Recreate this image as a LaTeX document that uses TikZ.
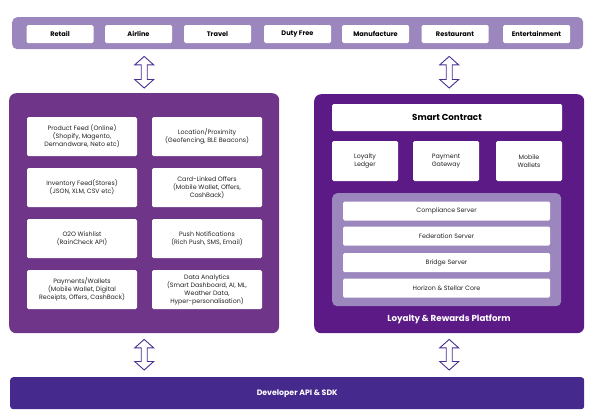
\documentclass[tikz,border=0pt]{standalone}
\usepackage{fontspec}
\setmainfont{Poppins}
\usetikzlibrary{calc}
\definecolor{lightpurple}{HTML}{9B86BD}
\definecolor{leftpurple}{HTML}{6F3589}
\definecolor{rightpurple}{HTML}{5B1A86}
\definecolor{indigo}{HTML}{45298D}
\definecolor{arrowcol}{HTML}{4A2F93}
\definecolor{boxtext}{HTML}{222222}
\tikzset{
  panel/.style={rounded corners=7pt, inner sep=0pt, anchor=north west},
  whitebox/.style={fill=white, rounded corners=1.5pt, inner sep=1pt, align=center,
    font=\fontsize{6.3}{8}\selectfont, text=boxtext},
  tabbox/.style={whitebox, minimum width=67pt, minimum height=18pt,
    font=\fontsize{6.6}{8}\selectfont\bfseries, text=black},
  featbox/.style={whitebox, minimum width=110pt, minimum height=39pt},
  smallbox/.style={whitebox, minimum width=66pt, minimum height=40pt},
  serverbox/.style={whitebox, minimum width=207pt, minimum height=19pt},
  arrowline/.style={draw=arrowcol, fill=white, line width=0.9pt, line join=miter},
}
\newcommand\vdarrow[2]{%
  \draw[arrowline] let \p1=(#1), \p2=(#2) in
    (\x1,\y1) -- (\x1+9.5pt,\y1-8.5pt) -- (\x1+3pt,\y1-8.5pt) -- (\x1+3pt,\y2+8.5pt)
    -- (\x1+9.5pt,\y2+8.5pt) -- (\x1,\y2) -- (\x1-9.5pt,\y2+8.5pt) -- (\x1-3pt,\y2+8.5pt)
    -- (\x1-3pt,\y1-8.5pt) -- (\x1-9.5pt,\y1-8.5pt) -- cycle;}
\begin{document}
\begin{tikzpicture}[x=1pt,y=-1pt]
\useasboundingbox (0,0) rectangle (596,418);
% top bar
\node[panel, fill=lightpurple, rounded corners=5pt, minimum width=571pt, minimum height=32pt] (top) at (12,17) {};
\node[tabbox] (retail) at (60,34) {Retail};
\node[tabbox] (airline) at (138.5,34) {Airline};
\node[tabbox] (travel) at (217.5,34) {Travel};
\node[tabbox] (duty) at (297.5,34) {Duty Free};
\node[tabbox] (manu) at (375.5,34) {Manufacture};
\node[tabbox] (rest) at (455,34) {Restaurant};
\node[tabbox] (ent) at (536.5,34) {Entertainment};
% left panel
\node[panel, fill=leftpurple, minimum width=270pt, minimum height=240pt] (lp) at (9,93) {};
\node[featbox] (prod) at (82,136.5) {Product Feed (Online)\\(Shopify, Magento,\\Demandware, Neto etc)};
\node[featbox] (inv) at (82,187.5) {Inventory Feed(Stores)\\(JSON, XLM, CSV etc)};
\node[featbox] (o2o) at (82,238.5) {O2O Wishlist\\(RainCheck API)};
\node[featbox] (pay) at (82,289.5) {Payments/Wallets\\(Mobile Wallet, Digital\\Receipts, Offers, CashBack)};
\node[featbox] (loc) at (207,136.5) {Location/Proximity\\(Geofencing, BLE Beacons)};
\node[featbox] (card) at (207,187.5) {Card-Linked Offers\\(Mobile Wallet, Offers,\\CashBack)};
\node[featbox] (push) at (207,238.5) {Push Notifications\\(Rich Push, SMS, Email)};
\node[featbox] (data) at (207,289.5) {Data Analytics\\(Smart Dashboard, AI, ML,\\Weather Data,\\Hyper-personalisation)};
% right panel
\node[panel, fill=rightpurple, minimum width=270pt, minimum height=239pt] (rp) at (314,94) {};
\node[whitebox, minimum width=230pt, minimum height=27pt, font=\fontsize{8.7}{10}\selectfont\bfseries, text=black] (smart) at (447,117.5) {Smart Contract};
\node[smallbox] (ledger) at (365,161) {Loyalty\\Ledger};
\node[smallbox] (gateway) at (446,161) {Payment\\Gateway};
\node[smallbox] (wallets) at (529,161) {Mobile\\Wallets};
\node[panel, fill=lightpurple, rounded corners=5pt, minimum width=229pt, minimum height=113pt] (stellar) at (332,193) {};
\node[serverbox] (comp) at (446.5,211) {Compliance Server};
\node[serverbox] (fed) at (446.5,236) {Federation Server};
\node[serverbox] (bridge) at (446.5,262.5) {Bridge Server};
\node[serverbox] (horizon) at (446.5,288) {Horizon \& Stellar Core};
\node[text=white, font=\fontsize{8.7}{10}\selectfont\bfseries] (platform) at (449,319.5) {Loyalty \& Rewards Platform};
% bottom bar
\node[panel, fill=indigo, rounded corners=3pt, minimum width=574pt, minimum height=32pt] (dev) at (10,377) {};
\node[text=white, font=\fontsize{7.8}{9}\selectfont\bfseries] (devlabel) at (dev.center) {Developer API \& SDK};
% arrows
\vdarrow{$(top.south -| lp.north)!7pt!(lp.north)$}{$(lp.north)!5pt!(top.south -| lp.north)$}
\vdarrow{$(top.south -| rp.north)!7pt!(rp.north)$}{$(rp.north)!6pt!(top.south -| rp.north)$}
\vdarrow{$(lp.south)!6pt!(dev.north -| lp.south)$}{$(dev.north -| lp.south)!7pt!(lp.south)$}
\vdarrow{$(rp.south)!6pt!(dev.north -| rp.south)$}{$(dev.north -| rp.south)!7pt!(rp.south)$}
\end{tikzpicture}
\end{document}
